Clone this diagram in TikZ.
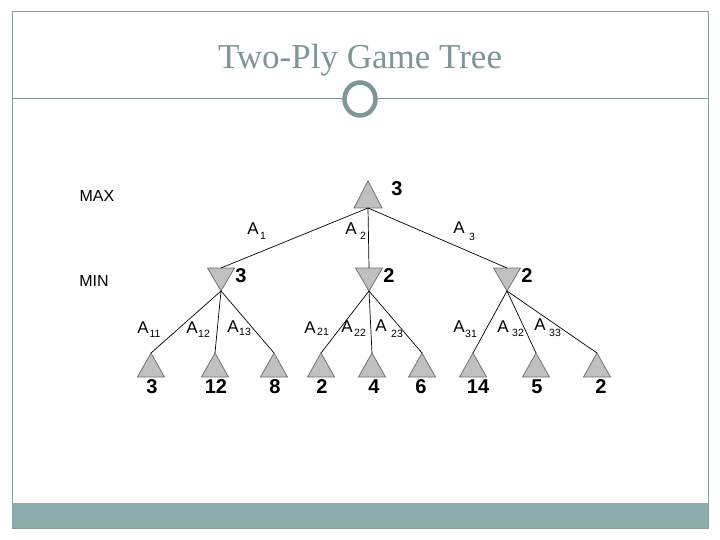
\documentclass[tikz,border=0pt]{standalone}
\usepackage{fontspec}
\usetikzlibrary{shapes.geometric}
\setmainfont{Liberation Serif}
\newfontfamily\arialf{Liberation Sans}
\definecolor{frame}{HTML}{8A9C9C}
\definecolor{band}{HTML}{8BACAA}
\definecolor{ttl}{HTML}{7F9696}
\definecolor{trifill}{HTML}{C0C0C0}
\tikzset{
  tri/.style={fill=trifill, draw=black!55, line width=0.8pt, line join=miter},
  edge/.style={draw=black, line width=0.7pt},
  lvl/.style={font=\arialf\fontsize{16}{16}\selectfont, inner sep=0pt},
  val/.style={font=\arialf\bfseries\fontsize{20}{20}\selectfont, inner sep=0pt},
  lab/.style={font=\arialf\fontsize{17}{17}\selectfont, inner sep=0pt},
  sub/.style={font=\arialf\fontsize{10.5}{10.5}\selectfont, inner sep=0pt},
}
\begin{document}
\begin{tikzpicture}[x=1pt,y=-1pt]
\useasboundingbox (0,0) rectangle (720,540);
% frame and band
\draw[frame, line width=1pt] (12,12) rectangle (708,528);
\fill[band] (12,503) rectangle (708,527.5);
% title
\node[ttl, font=\fontsize{35}{35}\selectfont, inner sep=0pt, anchor=base] (title) at (360,69) {Two-Ply Game Tree};
\draw[ttl, line width=1pt] (12,99) -- (708,99);
\node[ellipse, draw=ttl, fill=white, line width=4.5pt, minimum width=31pt, minimum height=33pt, inner sep=0pt] (orn) at (360,99) {};
% level labels
\node[lvl] (max) at (97,196) {MAX};
\node[lvl] (min) at (94,281) {MIN};
% root
\coordinate (rt) at (368,181);
\coordinate (r) at (368,208);
\draw[tri] (rt) -- (382,208) -- (354,208) -- cycle;
\node[val] (rv) at (397,189) {3};
% MIN nodes
\foreach \n/\x/\v in {m1/221/3, m2/369/2, m3/507/2}{
  \coordinate (\n) at (\x,268);
  \coordinate (\n b) at (\x,291);
  \draw[tri] (\x-13.5,268) -- (\x+13.5,268) -- (\n b) -- cycle;
  \node[val] (\n v) at (\x+20,276) {\v};
}
\draw[edge] (r) -- (m1);
\draw[edge] (r) -- (m2);
\draw[edge] (r) -- (m3);
% top edge labels
\node[lab] (a1) at (253,229) {A};\node[sub] (s1) at (263,236) {1};
\node[lab] (a2) at (351,229) {A};\node[sub] (s2) at (363,236) {2};
\node[lab] (a3) at (459,228) {A};\node[sub] (s3) at (472,237) {3};
% leaves
\foreach \n/\x/\v/\p in {l1/151/3/m1, l2/215/12/m1, l3/274/8/m1, l4/321/2/m2, l5/372/4/m2, l6/422/6/m2, l7/473/14/m3, l8/536/5/m3, l9/597/2/m3}{
  \coordinate (\n) at (\x,353);
  \draw[tri] (\n) -- (\x+13.5,377) -- (\x-13.5,377) -- cycle;
  \draw[edge] (\p b) -- (\n);
}
\node[val] (v1) at (152,387) {3};
\node[val] (v2) at (216,387) {12};
\node[val] (v3) at (275,387) {8};
\node[val] (v4) at (322,387) {2};
\node[val] (v5) at (374,387) {4};
\node[val] (v6) at (421,387) {6};
\node[val] (v7) at (478,387) {14};
\node[val] (v8) at (537,387) {5};
\node[val] (v9) at (601,387) {2};
% leaf edge labels
\foreach \x/\y/\s/\sx/\sy in {143/328/11/155/334, 192/328/12/204/334, 233/327/13/245/332, 310/328/21/323/332, 347/327/22/360/333, 381/326/23/397/334, 459/327/31/471/334, 503/327/32/518/333, 540/325/33/555/333}{
  \node[lab] (a\s) at (\x,\y) {A};
  \node[sub] (s\s) at (\sx,\sy) {\s};
}
\end{tikzpicture}
\end{document}
